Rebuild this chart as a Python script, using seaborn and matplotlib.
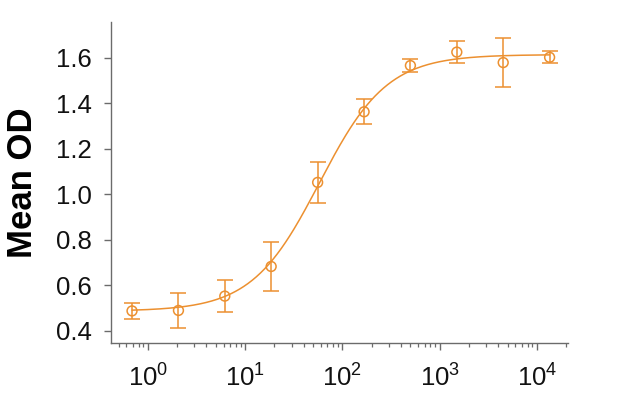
import numpy as np
import pandas as pd
import matplotlib
matplotlib.use("Agg")
import matplotlib.pyplot as plt
import seaborn as sns
from matplotlib.ticker import LogLocator, NullFormatter

# ---- data ----
conc = [0.686, 2.06, 6.17, 18.5, 55.6, 167, 500, 1500, 4500, 13500]
mean_od = [0.488, 0.490, 0.553, 0.683, 1.052, 1.362, 1.565, 1.624, 1.578, 1.601]
err_od = [0.036, 0.078, 0.070, 0.106, 0.090, 0.055, 0.027, 0.050, 0.107, 0.027]

# 4-parameter logistic fit parameters
fit_bottom = 0.487
fit_top = 1.613
fit_ec50 = 58.0
fit_hill = 1.25

y_ticks = [0.4, 0.6, 0.8, 1.0, 1.2, 1.4, 1.6]
y_label = "Mean OD"

color = "#EC9030"

sns.set_theme(style="ticks")
plt.rcParams["font.family"] = ["Liberation Sans", "DejaVu Sans"]
plt.rcParams["mathtext.default"] = "regular"

fig = plt.figure(figsize=(6.18, 3.96), dpi=100)
ax = fig.add_axes([0.1796, 0.1326, 0.7394, 0.8118])

df = pd.DataFrame({"conc": conc, "od": mean_od, "err": err_od})

xs = np.logspace(np.log10(conc[0]), np.log10(conc[-1]), 300)
curve = pd.DataFrame({
    "conc": xs,
    "od": fit_bottom + (fit_top - fit_bottom) / (1 + (fit_ec50 / xs) ** fit_hill),
})
sns.lineplot(data=curve, x="conc", y="od", color=color, lw=1.1, ax=ax)

ax.errorbar(df["conc"], df["od"], yerr=df["err"], fmt="none", ecolor=color,
            elinewidth=1.1, capsize=6, capthick=1.1, zorder=3)
sns.scatterplot(data=df, x="conc", y="od", marker="o", s=50, facecolor="none",
                edgecolor=color, linewidth=1.1, ax=ax, zorder=4)

ax.set_xscale("log")
ax.set_xlim(0.417, 20840)
ax.set_ylim(0.345, 1.756)
ax.set_yticks(y_ticks)
ax.set_yticklabels([f"{v:.1f}" for v in y_ticks])
ax.xaxis.set_major_locator(LogLocator(base=10, numticks=10))
ax.xaxis.set_minor_locator(LogLocator(base=10, subs=np.arange(2, 10), numticks=20))
ax.xaxis.set_minor_formatter(NullFormatter())

ax.set_xlabel("")
ax.set_ylabel(y_label, fontsize=25, fontweight="bold", color="black", labelpad=12)

for s in ["top", "right"]:
    ax.spines[s].set_visible(False)
for s in ["left", "bottom"]:
    ax.spines[s].set_color("#6b6b6b")
    ax.spines[s].set_linewidth(1.0)

ax.tick_params(axis="both", which="major", direction="out", length=5, width=1,
               color="#6b6b6b", labelsize=18.5, labelcolor="#111111")
ax.tick_params(axis="y", which="major", pad=9)
ax.tick_params(axis="x", which="major", pad=10)
ax.tick_params(axis="x", which="minor", direction="out", length=3, width=0.9,
               color="#6b6b6b")

fig.savefig("out.png", dpi=100)
